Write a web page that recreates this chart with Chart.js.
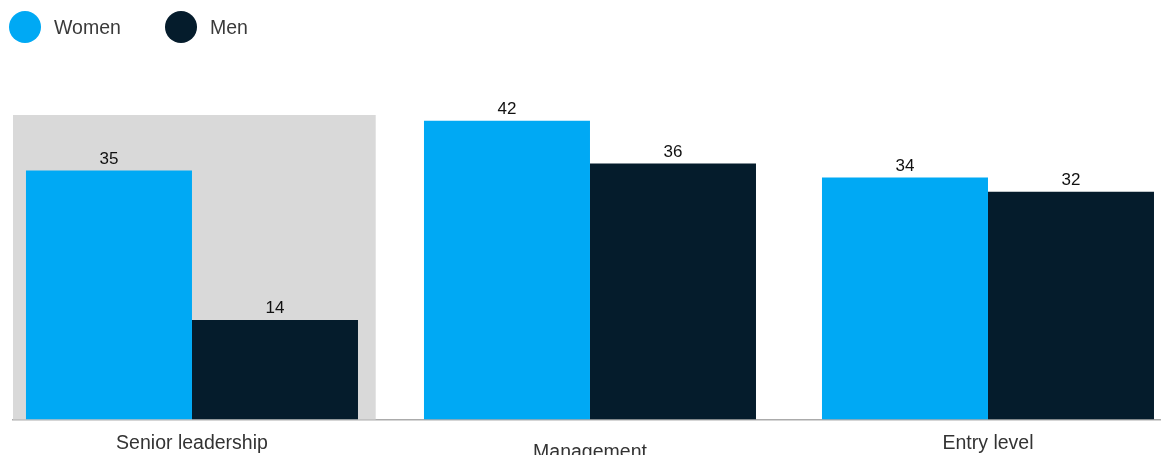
<!DOCTYPE html>
<html>
<head>
<meta charset="utf-8">
<script src="https://cdn.jsdelivr.net/npm/chart.js@4/dist/chart.umd.min.js"></script>
<style>
  html, body { margin: 0; padding: 0; background: #fff; }
  #wrap { position: relative; width: 1161px; height: 455px; }
  #legend { position: absolute; left: 9px; top: 11px; height: 32px; font-family: "Liberation Sans", Arial, sans-serif; font-size: 19.5px; color: #3a3a3a; }
  .item { position: absolute; top: 0; display: flex; align-items: center; height: 32px; white-space: nowrap; }
  .dot { width: 32px; height: 32px; border-radius: 50%; margin-right: 13px; }
</style>
</head>
<body>
<div id="wrap">
  <canvas id="chart" width="1161" height="455"></canvas>
  <div id="legend"></div>
</div>
<script>
// Share of respondents, by career level
const categories = ['Senior leadership', 'Management', 'Entry level'];
const seriesNames = ['Women', 'Men'];
const women = [35, 42, 34];
const men = [14, 36, 32];
const seriesColors = ['#00A9F4', '#051C2C'];

// Legend
const legendEl = document.getElementById('legend');
seriesNames.forEach((name, i) => {
  const item = document.createElement('div');
  item.className = 'item';
  item.style.left = (i * 156) + 'px';
  const dot = document.createElement('span');
  dot.className = 'dot';
  dot.style.background = seriesColors[i];
  const txt = document.createElement('span');
  txt.textContent = name;
  item.appendChild(dot);
  item.appendChild(txt);
  legendEl.appendChild(item);
});

// Grey backdrop behind the highlighted category group
const highlightBand = {
  id: 'highlightBand',
  beforeDatasetsDraw(chart, args, opts) {
    const { ctx, chartArea, scales } = chart;
    const right = scales.x.getPixelForValue(opts.to);
    ctx.save();
    ctx.fillStyle = opts.color;
    ctx.fillRect(chartArea.left, chartArea.top, right - chartArea.left, chartArea.bottom - chartArea.top);
    ctx.restore();
  }
};

// Value labels above each bar
const valueLabels = {
  id: 'valueLabels',
  afterDatasetsDraw(chart) {
    const { ctx } = chart;
    ctx.save();
    ctx.font = '17px "Liberation Sans", Arial, sans-serif';
    ctx.fillStyle = '#111';
    ctx.textAlign = 'center';
    ctx.textBaseline = 'alphabetic';
    chart.data.datasets.forEach((ds, di) => {
      chart.getDatasetMeta(di).data.forEach((bar, i) => {
        ctx.fillText(String(ds.data[i].y), bar.x, bar.y - 6.5);
      });
    });
    ctx.restore();
  }
};

const toPoints = arr => arr.map((v, i) => ({ x: i, y: v }));

new Chart(document.getElementById('chart'), {
  type: 'bar',
  data: {
    datasets: [
      { label: seriesNames[0], data: toPoints(women), backgroundColor: seriesColors[0] },
      { label: seriesNames[1], data: toPoints(men), backgroundColor: seriesColors[1] }
    ]
  },
  options: {
    responsive: false,
    animation: false,
    layout: { padding: { top: 115, left: 13, right: 0, bottom: 0 } },
    datasets: { bar: { categoryPercentage: 0.8342, barPercentage: 1, borderWidth: 0 } },
    plugins: {
      legend: { display: false },
      tooltip: { enabled: false },
      highlightBand: { to: 0.4616, color: '#D9D9D9' }
    },
    scales: {
      x: {
        type: 'linear',
        offset: false,
        min: -0.4497,
        max: 2.4347,
        bounds: 'data',
        grid: { display: false, offset: false },
        border: { display: true, color: '#ababab', width: 1.5 },
        afterBuildTicks(scale) { scale.ticks = categories.map((c, i) => ({ value: i })); },
        afterFit(scale) { scale.height = 35.5; },
        ticks: {
          padding: 5,
          color: '#333',
          font: (ctx) => ({
            family: '"Liberation Sans", Arial, sans-serif',
            size: 19.5,
            lineHeight: ctx.tick && ctx.tick.value === 1 ? '40px' : '23px'
          }),
          callback: (v) => categories[v]
        }
      },
      y: {
        display: false,
        min: 0,
        max: 42.8
      }
    }
  },
  plugins: [highlightBand, valueLabels]
});
</script>
</body>
</html>
